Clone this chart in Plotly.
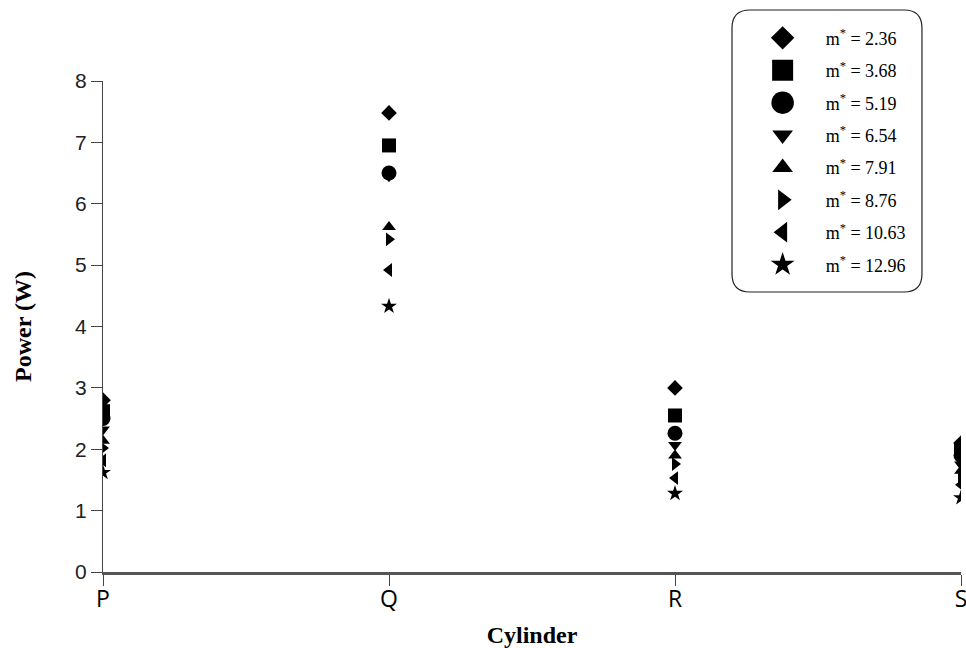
import plotly.graph_objects as go

# Cylinder positions along the x axis
cylinders = ["P", "Q", "R", "S"]

# Mass ratio of each series (legend labels)
mass_ratios = ["2.36", "3.68", "5.19", "6.54", "7.91", "8.76", "10.63", "12.96"]

# Power (W) per cylinder for each mass ratio
power_m236 = [2.80, 7.48, 3.00, 2.10]
power_m368 = [2.62, 6.95, 2.55, 2.00]
power_m519 = [2.50, 6.50, 2.26, 1.90]
power_m654 = [2.32, 6.45, 2.07, 1.75]
power_m791 = [2.14, 5.62, 1.90, 1.65]
power_m876 = [2.02, 5.42, 1.76, 1.55]
power_m1063 = [1.82, 4.92, 1.53, 1.42]
power_m1296 = [1.62, 4.33, 1.28, 1.21]

series = [power_m236, power_m368, power_m519, power_m654,
          power_m791, power_m876, power_m1063, power_m1296]
symbols = ["diamond", "square", "circle", "triangle-down",
           "triangle-up", "triangle-right", "triangle-left", "star"]
sizes = [12, 14, 15, 12, 12, 12, 12, 12]

fig = go.Figure()
for i, (vals, sym, m) in enumerate(zip(series, symbols, mass_ratios)):
    fig.add_trace(go.Scatter(
        x=cylinders, y=vals, mode="markers",
        name=f"m<sup>*</sup> = {m}",
        legendgroup=f"g{i}",
        marker=dict(symbol=sym, size=sizes[i], color="black",
                    line=dict(width=0)),
    ))

serif = "Liberation Serif, Times New Roman, serif"
sans = "Liberation Sans, Arial, sans-serif"

# Rounded frame around the legend (paper coordinates)
x0, x1 = 0.7331, 0.9545
y0, y1 = 0.5703, 1.1446
rx, ry = 0.021, 0.0367
frame = (f"M {x0+rx},{y1} L {x1-rx},{y1} Q {x1},{y1} {x1},{y1-ry} "
         f"L {x1},{y0+ry} Q {x1},{y0} {x1-rx},{y0} "
         f"L {x0+rx},{y0} Q {x0},{y0} {x0},{y0+ry} "
         f"L {x0},{y1-ry} Q {x0},{y1} {x0+rx},{y1} Z")

fig.update_layout(
    width=966, height=648,
    margin=dict(l=103, r=5, t=81, b=76),
    paper_bgcolor="white", plot_bgcolor="white",
    showlegend=True,
    legend=dict(
        x=0.742, y=1.125, xanchor="left", yanchor="top",
        bgcolor="rgba(0,0,0,0)", borderwidth=0,
        font=dict(family=serif, size=18, color="black"),
        tracegroupgap=6, itemwidth=76,
    ),
    shapes=[dict(type="path", xref="paper", yref="paper", path=frame,
                 line=dict(color="#222", width=1.2),
                 fillcolor="rgba(0,0,0,0)", layer="below")],
    xaxis=dict(
        type="category", range=[0, 3], automargin=False,
        showline=True, linecolor="#555", linewidth=2.5,
        ticks="outside", ticklen=11, tickcolor="#444", tickwidth=1,
        showgrid=False, zeroline=False,
        ticklabelstandoff=-6,
        tickfont=dict(family="Open Sans, DejaVu Sans, sans-serif", size=23, color="black"),
        title=dict(text="<b>Cylinder</b>", font=dict(family=serif, size=24, color="black"),
                   standoff=16),
    ),
    yaxis=dict(
        range=[0, 8], dtick=1, automargin=False,
        showline=True, linecolor="#444", linewidth=1,
        ticks="outside", ticklen=11, tickcolor="#444", tickwidth=1,
        showgrid=False, zeroline=False,
        tickfont=dict(family=sans, size=21, color="#222"),
        title=dict(text="<b>Power (W)</b>", font=dict(family=serif, size=24, color="black"),
                   standoff=36),
    ),
)

# Enlarge the legend key symbols after drawing
enlarge_keys = """
var gd = document.getElementById('{plot_id}');
function growKeys() {
  gd.querySelectorAll('.legend path.scatterpts').forEach(function (p) {
    var t = p.getAttribute('transform') || '';
    if (t.indexOf('scale') < 0) { p.setAttribute('transform', t + ' scale(1.5)'); }
  });
}
growKeys();
gd.on('plotly_afterplot', growKeys);
"""

fig.write_html("out.html", post_script=enlarge_keys)
